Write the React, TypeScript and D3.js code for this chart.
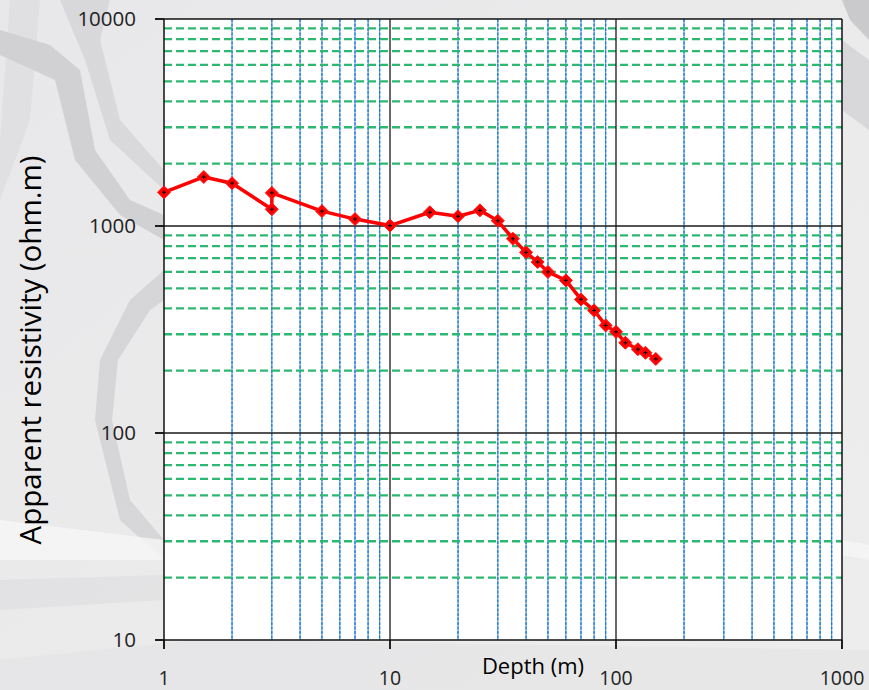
import React from "react";
import * as d3 from "d3";

const depths = [1, 1.5, 2, 3, 3, 5, 7, 10, 15, 20, 25, 30, 35, 40, 45, 50, 60, 70, 80, 90, 100, 110, 125, 135, 150];
const resistivity = [1455, 1725, 1610, 1205, 1445, 1180, 1080, 1005, 1165, 1115, 1190, 1060, 868, 746, 670, 600, 546, 442, 391, 331, 308, 273, 254, 244, 228];

const xTicks = [1, 10, 100, 1000];
const yTicks = [10, 100, 1000, 10000];
const xTickLabels = ["1", "10", "100", "1000"];
const yTickLabels = ["10", "100", "1000", "10000"];
const xTitle = "Depth (m)";
const yTitle = "Apparent resistivity (ohm.m)";

const W = 869;
const H = 690;
const L = 164, R = 842, T = 19, B = 640;

export default function App() {
  const x = d3.scaleLog().domain([1, 1000]).range([L, R]);
  const y = d3.scaleLog().domain([10, 10000]).range([B, T]);

  const minorX: number[] = [];
  const minorY: number[] = [];
  for (const dec of [1, 10, 100]) {
    for (let k = 2; k <= 9; k++) minorX.push(dec * k);
  }
  for (const dec of [10, 100, 1000]) {
    for (let k = 2; k <= 9; k++) minorY.push(dec * k);
  }
  const pts = depths.map((d, i) => [x(d), y(resistivity[i])] as [number, number]);
  const line = d3.line()(pts) || "";
  const font = "'Open Sans', 'Noto Sans', sans-serif";

  return (
    <svg width={W} height={H} style={{ position: "absolute", left: 0, top: 0 }}>
      <defs>
        <linearGradient id="bg" x1="0" y1="0" x2="1" y2="1">
          <stop offset="0" stopColor="#e8e8ea" />
          <stop offset="1" stopColor="#ededed" />
        </linearGradient>
      </defs>
      <rect x={0} y={0} width={W} height={H} fill="url(#bg)" />
      {/* abstract background shapes */}
      <path d="M0,30 L50,45 L80,70 L95,150 L130,200 L164,215 L164,240 L120,215 L75,160 L55,80 L0,55 Z" fill="#9a9aa0" opacity={0.3} />
      <path d="M60,0 L110,0 L100,40 L120,120 L164,170 L164,190 L110,140 L85,60 Z" fill="#b0b0b4" opacity={0.28} />
      <path d="M164,270 L130,300 L100,360 L95,420 L120,520 L164,560 L164,540 L130,500 L112,420 L118,360 L150,310 L164,300 Z" fill="#a8a8ac" opacity={0.3} />
      <path d="M0,520 L164,540 L164,560 L0,560 Z" fill="#f6f6f6" opacity={0.8} />
      <path d="M0,580 L164,575 L164,600 L0,610 Z" fill="#d8d8da" opacity={0.4} />
      <path d="M10,0 L40,0 L30,120 L0,200 L0,140 Z" fill="#d0d0d4" opacity={0.35} />
      <path d="M842,40 L869,60 L869,130 L842,110 Z" fill="#bcbcc0" opacity={0.4} />
      <path d="M842,0 L869,0 L869,40 L850,20 Z" fill="#9c9ca0" opacity={0.4} />
      <path d="M842,540 L869,545 L869,560 L842,555 Z" fill="#f6f6f6" opacity={0.8} />
      <path d="M200,640 L869,650 L869,690 L0,690 L0,660 Z" fill="#e2e2e4" opacity={0.5} />

      <rect x={L} y={T} width={R - L} height={B - T} fill="#ffffff" />

      {/* minor x gridlines */}
      {minorX.map((v) => (
        <g key={"mx" + v}>
          <line x1={x(v)} x2={x(v)} y1={T} y2={B} stroke="#3a6aa0" strokeWidth={0.8} />
          <line x1={x(v)} x2={x(v)} y1={T} y2={B} stroke="#0f7ff0" strokeWidth={1.3} strokeDasharray="3,1.5" />
        </g>
      ))}
      {/* minor y gridlines */}
      {minorY.map((v) => (
        <line key={"my" + v} x1={L} x2={R} y1={y(v)} y2={y(v)} stroke="#2db872" strokeWidth={2.3} strokeDasharray="8,4" />
      ))}
      {/* major gridlines */}
      {[100, 1000].map((v) => (
        <line key={"My" + v} x1={L - 9} x2={R} y1={y(v)} y2={y(v)} stroke="#1a1a1a" strokeWidth={1.3} />
      ))}
      {[10, 100].map((v) => (
        <line key={"Mx" + v} x1={x(v)} x2={x(v)} y1={T} y2={B + 9} stroke="#1a1a1a" strokeWidth={1.3} />
      ))}
      {/* frame */}
      <line x1={L - 9} x2={R} y1={T} y2={T} stroke="#111" strokeWidth={1.5} />
      <line x1={L - 9} x2={R} y1={B} y2={B} stroke="#111" strokeWidth={1.5} />
      <line x1={L} x2={L} y1={T} y2={B + 9} stroke="#111" strokeWidth={1.5} />
      <line x1={R} x2={R} y1={T} y2={B + 9} stroke="#111" strokeWidth={1.5} />
      {yTicks.map((v) => (
        <line key={"yt" + v} x1={L - 9} x2={L} y1={y(v)} y2={y(v)} stroke="#111" strokeWidth={1.5} />
      ))}
      {xTicks.map((v) => (
        <line key={"xt" + v} x1={x(v)} x2={x(v)} y1={B} y2={B + 9} stroke="#111" strokeWidth={1.5} />
      ))}

      {/* data */}
      <path d={line} fill="none" stroke="#ff0000" strokeWidth={3.5} strokeLinejoin="round" />
      {pts.map(([px, py], i) => (
        <g key={"p" + i} transform={`translate(${px},${py})`}>
          <path d="M0,-6.5 L6.5,0 L0,6.5 L-6.5,0 Z" fill="#ff0000" stroke="#ff1a1a" strokeWidth={1} strokeLinejoin="round" />
          <line x1={-2} x2={2} y1={0} y2={0} stroke="#000" strokeWidth={1} />
          <line x1={0} x2={0} y1={-2} y2={2} stroke="#000" strokeWidth={1} />
        </g>
      ))}

      {/* tick labels */}
      {yTicks.map((v, i) => (
        <text key={"yl" + v} x={136} y={y(v)} dy="0.35em" textAnchor="end" fontFamily={font} fontSize={20.5} fill="#222">
          {yTickLabels[i]}
        </text>
      ))}
      {xTicks.map((v, i) => (
        <text key={"xl" + v} x={x(v)} y={685} textAnchor="middle" fontFamily={font} fontSize={19.5} fill="#222">
          {xTickLabels[i]}
        </text>
      ))}
      <text x={533} y={674} textAnchor="middle" fontFamily={font} fontSize={22} fill="#000">{xTitle}</text>
      <text transform={`translate(41,350) rotate(-90)`} textAnchor="middle" fontFamily={font} fontSize={29.5} fill="#000">{yTitle}</text>
    </svg>
  );
}
